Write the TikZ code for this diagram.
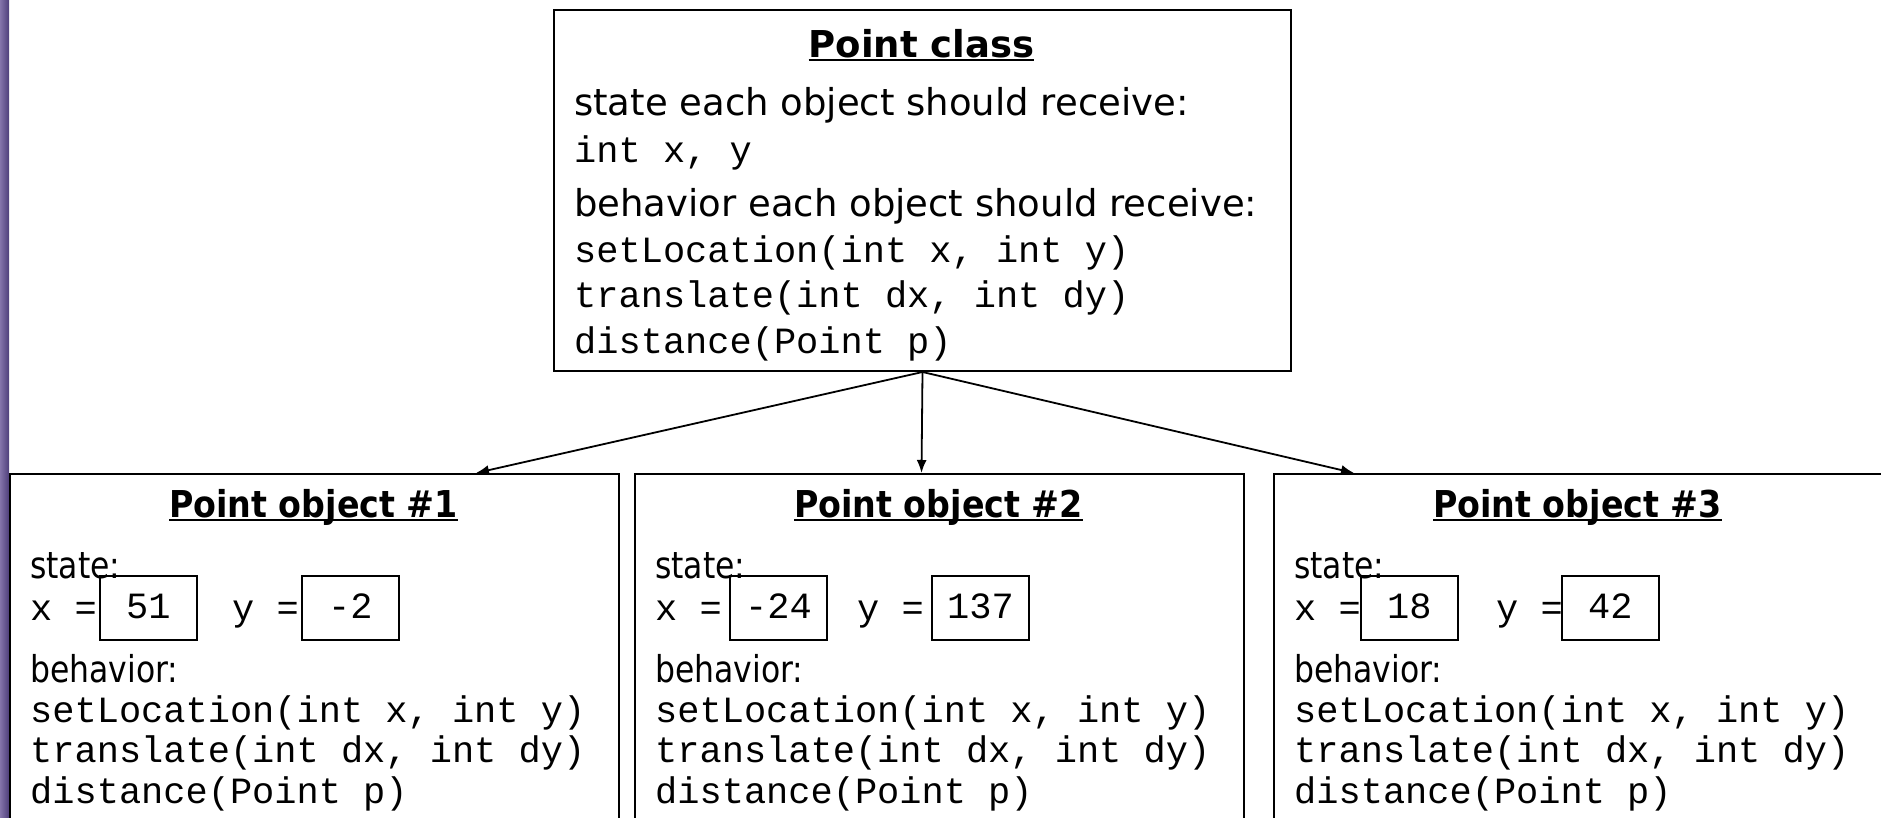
\documentclass[tikz,border=0pt]{standalone}
\usepackage{fontspec}
\setmainfont{DejaVu Sans}
\setmonofont{Liberation Mono}
\newfontfamily\objfont[FakeStretch=0.85]{DejaVu Sans}
\newfontfamily\objtitlefont[FakeStretch=0.9]{DejaVu Sans}
\usetikzlibrary{positioning,arrows.meta}

\definecolor{slidebar}{RGB}{78,62,122}
\definecolor{slidebarlight}{RGB}{132,116,170}
% underline drawn as a rule, thick enough for the big title font
\newcommand{\ulbox}[1]{\setbox0\hbox{#1}\rlap{\rule[-4pt]{\wd0}{2.5pt}}\box0}

\begin{document}
\begin{tikzpicture}[x=1pt,y=-1pt,>={Latex[length=13pt,width=10pt]},
    box/.style={draw,line width=2pt,rectangle,inner sep=0pt,anchor=north west},
    valbox/.style={draw,line width=1.8pt,minimum height=64pt,inner sep=0pt,
      text height=22pt,text depth=0pt,font=\fontsize{37}{40}\ttfamily},
    txt/.style={anchor=base west,inner sep=0pt},
    sans/.style={txt,font=\fontsize{37}{40}\selectfont},
    osans/.style={txt,font=\fontsize{37}{40}\objfont},
    mono/.style={txt,font=\fontsize{37}{40}\ttfamily},
    title/.style={anchor=base,inner sep=0pt,font=\fontsize{37}{40}\bfseries}]
  \useasboundingbox (0,0) rectangle (1881,817);
  \clip (0,0) rectangle (1881,817);
  \shade[left color=slidebarlight,right color=slidebar] (0,0) rectangle (9,817);

  % the class
  \node[box,minimum width=737pt,minimum height=361pt] (cls) at (553,9) {};
  \node[title] (clsname) at (921.5,57) {\ulbox{Point class}};
  \node[sans] (clsstate) at (574,115) {state each object should receive:};
  \node[mono] (clsfields) at (574,162) {int x, y};
  \node[sans] (clsbeh) at (574,216) {behavior each object should receive:};
  \node[mono] (clsm1) at (574,262) {setLocation(int x, int y)};
  \node[mono] (clsm2) at (574,307) {translate(int dx, int dy)};
  \node[mono] (clsm3) at (574,353) {distance(Point p)};

  % the objects
  \foreach \n/\l/\xv/\yv/\xa/\ya in {1/9/51/-2/90/292,2/634/-24/137/95/297,3/1273/18/42/87/288} {
    \node[box,minimum width=609pt,minimum height=500pt] (obj\n) at (\l,473) {};
    \node[title,font=\fontsize{37}{40}\objtitlefont\bfseries] (objname\n) at (\l+304.5,517)
      {\ulbox{Point object \#\n}};
    \node[osans] (objstate\n) at (\l+21,578) {state:};
    \node[mono] (objx\n) at (\l+21,620) {x =};
    \node[mono] (objy\n) at (\l+223,620) {y =};
    \node[valbox,minimum width=97pt,anchor=north west] (xval\n) at (\l+\xa,575) {\xv};
    \node[valbox,minimum width=97pt,anchor=north west] (yval\n) at (\l+\ya,575) {\yv};
    \node[osans] (objbeh\n) at (\l+21,682) {behavior:};
    \node[mono] (objm1\n) at (\l+21,722) {setLocation(int x, int y)};
    \node[mono] (objm2\n) at (\l+21,762) {translate(int dx, int dy)};
    \node[mono] (objm3\n) at (\l+21,803) {distance(Point p)};
  }

  \coordinate (in1) at (476,473);
  \coordinate (in2) at (921.5,473);
  \coordinate (in3) at (1354,473);
  \draw[->,line width=1.8pt] (cls.south) -- (in1);
  \draw[->,line width=1.8pt] (cls.south) -- (in2);
  \draw[->,line width=1.8pt] (cls.south) -- (in3);
\end{tikzpicture}
\end{document}
